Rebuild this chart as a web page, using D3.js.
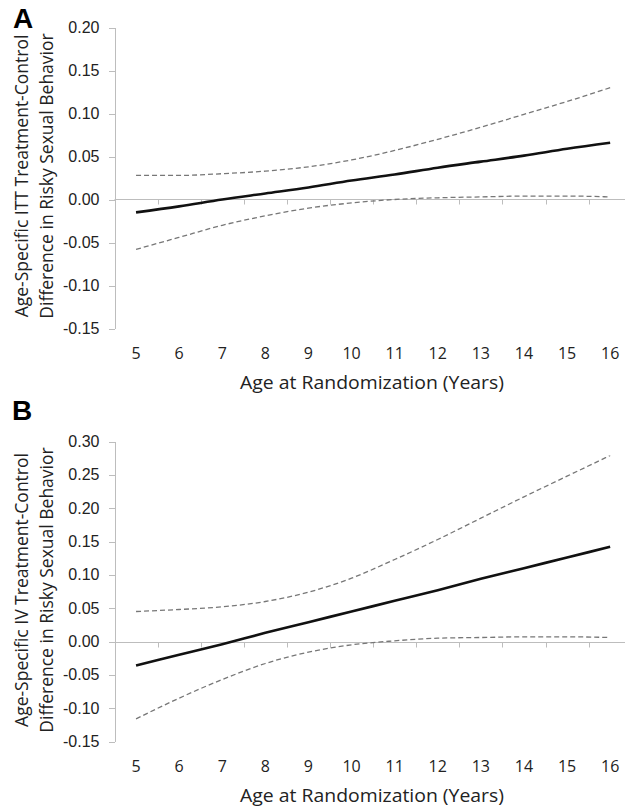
<!DOCTYPE html>
<html lang="en">
<head>
<meta charset="UTF-8">
<title>Age-specific treatment-control difference</title>
<style>
  body { margin: 0; background: #fff; }
  svg { display: block; font-family: "Open Sans", "Liberation Sans", sans-serif; }
  .axis path, .axis line { stroke: #bdbdbd; shape-rendering: crispEdges; }
  .est { fill: none; stroke: #111; stroke-width: 2.6px; }
  .ci { fill: none; stroke: #777; stroke-width: 1.3px; stroke-dasharray: 5 3; }
  .panel { font-family: "Liberation Sans", Arial, sans-serif; font-weight: bold; font-size: 28px; fill: #000; }
</style>
<script src="https://cdn.jsdelivr.net/npm/d3@7"></script>
</head>
<body>
<div id="chart"></div>
<script>
  // ages on the x axis
  var ages = [5, 6, 7, 8, 9, 10, 11, 12, 13, 14, 15, 16];

  // panel A: ITT
  var ittEst   = [-0.015, -0.008, 0.000, 0.007, 0.014, 0.022, 0.029, 0.037, 0.044, 0.051, 0.059, 0.066];
  var ittUpper = [0.028, 0.028, 0.030, 0.033, 0.038, 0.046, 0.057, 0.070, 0.084, 0.099, 0.114, 0.130];
  var ittLower = [-0.058, -0.044, -0.030, -0.019, -0.010, -0.004, 0.000, 0.002, 0.003, 0.004, 0.004, 0.003];

  // panel B: IV
  var ivEst   = [-0.036, -0.020, -0.004, 0.013, 0.029, 0.045, 0.061, 0.077, 0.094, 0.110, 0.126, 0.142];
  var ivUpper = [0.045, 0.048, 0.052, 0.060, 0.074, 0.095, 0.123, 0.153, 0.185, 0.217, 0.248, 0.279];
  var ivLower = [-0.116, -0.085, -0.057, -0.033, -0.016, -0.005, 0.001, 0.005, 0.006, 0.007, 0.007, 0.006];

  var ittTicks = [-0.15, -0.10, -0.05, 0.00, 0.05, 0.10, 0.15, 0.20];
  var ivTicks  = [-0.15, -0.10, -0.05, 0.00, 0.05, 0.10, 0.15, 0.20, 0.25, 0.30];

  var W = 625, H = 810;
  var svg = d3.select("#chart").append("svg")
      .attr("width", W)
      .attr("height", H);

  // category axis, bands of ~43px starting at the y axis
  var x = d3.scaleBand().domain(ages).range([114.5, 114.5 + 12 * 43.1]);
  function cx(a) { return x(a) + x.bandwidth() / 2; }

  function drawPanel(opt) {
    var y = d3.scaleLinear().domain([-0.15, opt.max]).range([opt.bottom, opt.top]);
    var g = svg.append("g");

    // y axis
    g.append("g")
        .attr("class", "axis")
        .attr("transform", "translate(114.5,0)")
        .call(d3.axisLeft(y).tickValues(opt.ticks).tickSize(6).tickSizeOuter(0))
        .call(function(s) {
          s.selectAll("text")
              .attr("x", -15)
              .attr("font-size", "16px")
              .attr("fill", "#222")
              .text(function(d) { return d3.format(".2f")(d).replace("−", "-"); });
        });

    // zero line with ticks between the categories
    var y0 = Math.round(y(0)) + 0.5;
    g.append("line")
        .attr("x1", 114.5).attr("x2", W)
        .attr("y1", y0).attr("y2", y0)
        .attr("stroke", "#bdbdbd");
    g.selectAll("line.xtick").data(ages.slice(1)).enter().append("line")
        .attr("class", "xtick")
        .attr("x1", function(d) { return Math.round(x(d)) + 0.5; })
        .attr("x2", function(d) { return Math.round(x(d)) + 0.5; })
        .attr("y1", y0).attr("y2", y0 + 5)
        .attr("stroke", "#bdbdbd");

    // category labels at the bottom
    g.selectAll("text.xlab").data(ages).enter().append("text")
        .attr("class", "xlab")
        .attr("x", cx)
        .attr("y", opt.bottom + 30)
        .attr("text-anchor", "middle")
        .attr("font-size", "16px")
        .attr("fill", "#222")
        .text(function(d) { return d; });

    var line = d3.line()
        .x(function(d, i) { return cx(ages[i]); })
        .y(function(d) { return y(d); })
        .curve(d3.curveMonotoneX);

    g.append("path").datum(opt.upper).attr("class", "ci").attr("d", line);
    g.append("path").datum(opt.lower).attr("class", "ci").attr("d", line);
    g.append("path").datum(opt.est).attr("class", "est").attr("d", line);

    // titles
    g.append("text")
        .attr("x", 372).attr("y", opt.bottom + 60)
        .attr("text-anchor", "middle")
        .attr("font-size", "17.5px")
        .attr("fill", "#222")
        .attr("textLength", 264)
        .attr("lengthAdjust", "spacingAndGlyphs")
        .text("Age at Randomization (Years)");

    var ymid = opt.titleMid;
    var yt = g.append("text")
        .attr("text-anchor", "middle")
        .attr("font-size", "17.5px")
        .attr("fill", "#222")
        .attr("transform", "translate(28," + ymid + ") rotate(-90)");
    yt.append("tspan").attr("x", 0).attr("dy", 0).text(opt.ytitle[0]);
    yt.append("tspan").attr("x", 0).attr("dy", 24.5).text(opt.ytitle[1]);

    g.append("text")
        .attr("class", "panel")
        .attr("x", opt.letterX).attr("y", opt.letterY)
        .text(opt.letter);
  }

  drawPanel({
    max: 0.20, top: 27.5, bottom: 328.5, ticks: ittTicks,
    est: ittEst, upper: ittUpper, lower: ittLower, titleMid: 176,
    ytitle: ["Age-Specific ITT Treatment-Control", "Difference in Risky Sexual Behavior"],
    letter: "A", letterX: 13, letterY: 28
  });

  drawPanel({
    max: 0.30, top: 441.5, bottom: 741.5, ticks: ivTicks,
    est: ivEst, upper: ivUpper, lower: ivLower, titleMid: 590,
    ytitle: ["Age-Specific IV Treatment-Control", "Difference in Risky Sexual Behavior"],
    letter: "B", letterX: 12, letterY: 420
  });
</script>
</body>
</html>
